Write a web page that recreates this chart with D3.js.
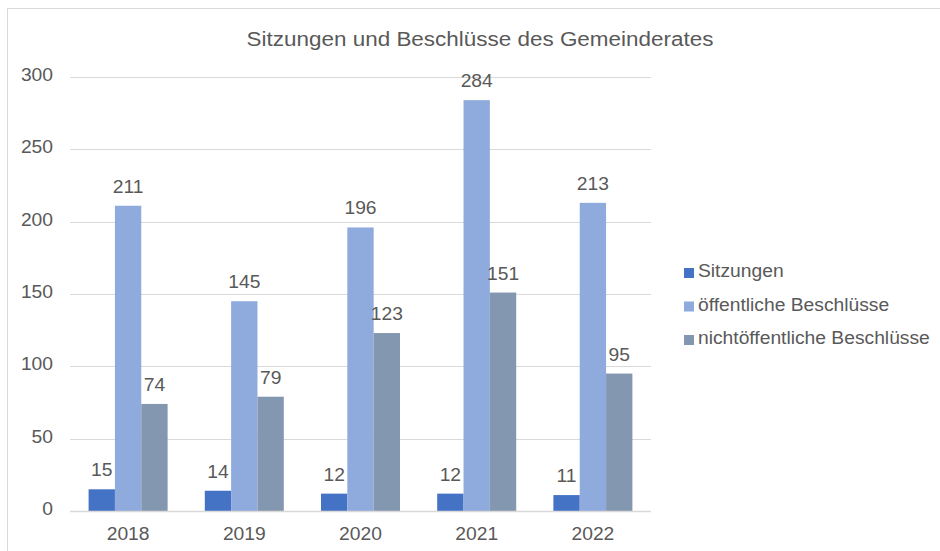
<!DOCTYPE html>
<html>
<head>
<meta charset="utf-8">
<script src="https://cdn.jsdelivr.net/npm/d3@7"></script>
<style>
  body { margin: 0; background: #fff; }
  text { font-family: "Liberation Sans", Arial, sans-serif; fill: #595959; }
</style>
</head>
<body>
<div id="chart"></div>
<script>
// data
var years = ["2018", "2019", "2020", "2021", "2022"];
var seriesNames = ["Sitzungen", "öffentliche Beschlüsse", "nichtöffentliche Beschlüsse"];
var sitzungen = [15, 14, 12, 12, 11];
var oeffentlich = [211, 145, 196, 284, 213];
var nichtoeffentlich = [74, 79, 123, 151, 95];
var yTicks = [0, 50, 100, 150, 200, 250, 300];

var seriesColors = ["#4472C4", "#8FAADC", "#8497B0"];
var allSeries = [sitzungen, oeffentlich, nichtoeffentlich];

var width = 940, height = 551;
var plotLeft = 70, plotRight = 651, plotTop = 77, plotBottom = 511;
var stretch = 1.07; // text in the picture is a bit wider than plain Arial

function place(px, py) {
    return "translate(" + px + "," + py + ") scale(" + stretch + ",1)";
}

var svg = d3.select("#chart").append("svg")
    .attr("width", width).attr("height", height);

// chart border
svg.append("rect").attr("x", 7.5).attr("y", 8.5)
    .attr("width", 940).attr("height", 560)
    .attr("fill", "none").attr("stroke", "#d9d9d9").attr("stroke-width", 1);

var x = d3.scaleBand().domain(years).range([plotLeft, plotRight]).paddingInner(0.32).paddingOuter(0.16);
var xs = d3.scaleBand().domain(d3.range(3)).range([0, x.bandwidth()]);
var y = d3.scaleLinear().domain([0, 300]).range([plotBottom, plotTop]);

// gridlines
svg.append("g").selectAll("line").data(yTicks).enter().append("line")
    .attr("x1", plotLeft).attr("x2", plotRight)
    .attr("y1", function(d){ return Math.round(y(d)) + 0.5; })
    .attr("y2", function(d){ return Math.round(y(d)) + 0.5; })
    .attr("stroke", "#d9d9d9").attr("stroke-width", 1);

// y tick labels
svg.append("g").selectAll("text").data(yTicks).enter().append("text")
    .attr("transform", function(d){ return place(53, y(d) + 4); })
    .attr("text-anchor", "end").attr("font-size", 18)
    .text(function(d){ return d; });

// bars
for (var s = 0; s < allSeries.length; s++) {
    var g = svg.append("g");
    g.selectAll("rect").data(allSeries[s]).enter().append("rect")
        .attr("x", function(d, i){ return x(years[i]) + xs(s); })
        .attr("width", xs.bandwidth())
        .attr("y", function(d){ return y(d); })
        .attr("height", function(d){ return plotBottom - y(d); })
        .attr("fill", seriesColors[s]);
    g.selectAll("text").data(allSeries[s]).enter().append("text")
        .attr("transform", function(d, i){ return place(x(years[i]) + xs(s) + xs.bandwidth() / 2, y(d) - 13); })
        .attr("text-anchor", "middle").attr("font-size", 18)
        .text(function(d){ return d; });
}

// x axis line
svg.append("line").attr("x1", plotLeft).attr("x2", plotRight)
    .attr("y1", plotBottom + 0.5).attr("y2", plotBottom + 0.5)
    .attr("stroke", "#d9d9d9").attr("stroke-width", 1.5);

// x labels
svg.append("g").selectAll("text").data(years).enter().append("text")
    .attr("transform", function(d){ return place(x(d) + x.bandwidth() / 2, 540); })
    .attr("text-anchor", "middle").attr("font-size", 18)
    .text(function(d){ return d; });

// title
svg.append("text").attr("transform", place(480, 46))
    .attr("text-anchor", "middle").attr("font-size", 21)
    .text("Sitzungen und Beschlüsse des Gemeinderates");

// legend
var legend = svg.append("g").selectAll("g").data(seriesNames).enter().append("g")
    .attr("transform", function(d, i){ return "translate(684," + (272 + i * 33.5) + ")"; });
legend.append("rect").attr("x", 0).attr("y", -4).attr("width", 10).attr("height", 10)
    .attr("fill", function(d, i){ return seriesColors[i]; });
legend.append("text").attr("transform", place(14, 5)).attr("font-size", 18)
    .text(function(d){ return d; });
</script>
</body>
</html>
